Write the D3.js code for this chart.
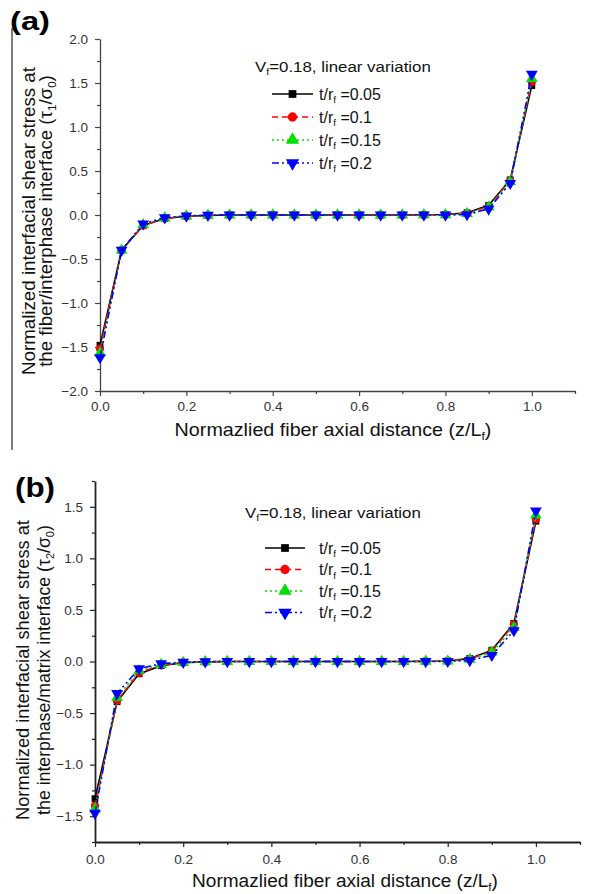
<!DOCTYPE html>
<html>
<head>
  <meta charset="UTF-8">
  <title>Normalized interfacial shear stress</title>
  <script src="https://d3js.org/d3.v7.min.js"></script>
  <style>
    body { margin: 0; background: #fff; }
    svg { display: block; font-family: "Liberation Sans", Arial, sans-serif; }
    .tick text { fill: #333; font-size: 13.5px; }
  </style>
</head>
<body>
  <div id="chart"></div>
  <script>
    // normalized axial positions z/Lf
    const zPos = [0, 0.05, 0.1, 0.15, 0.2, 0.25, 0.3, 0.35, 0.4, 0.45, 0.5,
                  0.55, 0.6, 0.65, 0.7, 0.75, 0.8, 0.85, 0.9, 0.95, 1.0];
    const thicknessLabels = ["0.05", "0.1", "0.15", "0.2"];

    // (a) tau1/sigma0, fiber/interphase interface
    const tau1_005 = [-1.48, -0.40, -0.12, -0.04, -0.015, -0.005, 0, 0, 0, 0, 0, 0, 0, 0, 0, 0.002, 0.005, 0.025, 0.11, 0.40, 1.47];
    const tau1_010 = [-1.52, -0.40, -0.12, -0.04, -0.015, -0.005, 0, 0, 0, 0, 0, 0, 0, 0, 0, 0.001, 0.004, 0.02, 0.10, 0.39, 1.51];
    const tau1_015 = [-1.57, -0.40, -0.11, -0.035, -0.012, -0.004, 0, 0, 0, 0, 0, 0, 0, 0, 0, 0.001, 0.003, 0.015, 0.09, 0.38, 1.55];
    const tau1_020 = [-1.62, -0.40, -0.10, -0.03, -0.01, -0.003, 0, 0, 0, 0, 0, 0, 0, 0, 0, 0, 0, 0.005, 0.07, 0.36, 1.60];

    // (b) tau2/sigma0, interphase/matrix interface
    const tau2_005 = [-1.33, -0.39, -0.12, -0.04, -0.012, -0.004, 0, 0, 0, 0, 0, 0, 0, 0, 0, 0.002, 0.005, 0.03, 0.11, 0.37, 1.36];
    const tau2_010 = [-1.40, -0.38, -0.11, -0.035, -0.01, -0.003, 0, 0, 0, 0, 0, 0, 0, 0, 0, 0.002, 0.004, 0.025, 0.10, 0.36, 1.38];
    const tau2_015 = [-1.43, -0.35, -0.09, -0.03, -0.01, -0.003, 0, 0, 0, 0, 0, 0, 0, 0, 0, 0.001, 0.003, 0.02, 0.09, 0.33, 1.42];
    const tau2_020 = [-1.47, -0.31, -0.07, -0.02, -0.006, -0.002, 0, 0, 0, 0, 0, 0, 0, 0, 0, 0, 0.002, 0.01, 0.06, 0.30, 1.46];

    const xTicks = [0, 0.2, 0.4, 0.6, 0.8, 1.0];
    const xMinorTicks = [0.1, 0.3, 0.5, 0.7, 0.9, 1.1];
    const yTicksA = [-2, -1.5, -1, -0.5, 0, 0.5, 1, 1.5, 2];
    const yMinorA = [-1.75, -1.25, -0.75, -0.25, 0.25, 0.75, 1.25, 1.75];
    const yTicksB = [-1.5, -1, -0.5, 0, 0.5, 1, 1.5];
    const yMinorB = [-1.75, -1.25, -0.75, -0.25, 0.25, 0.75, 1.25, 1.75];

    const seriesStyle = [
      { color: "#000000", dash: null, symbol: d3.symbolSquare, size: 46, rot: 0 },
      { color: "#ff0000", dash: "6,4", symbol: d3.symbolCircle, size: 52, rot: 0 },
      { color: "#00e000", dash: "2,3", symbol: d3.symbolTriangle, size: 60, rot: 0 },
      { color: "#0000ff", dash: "7,3,2,3,2,3", symbol: d3.symbolTriangle, size: 60, rot: 180 }
    ];

    const svg = d3.select("#chart").append("svg")
      .attr("width", 595).attr("height", 894);

    // writes text made of [string, isSub] parts
    function richText(g, parts, size) {
      let acc = 0;
      parts.forEach(([s, sub]) => {
        const t = g.append("tspan").text(s);
        if (sub) { t.attr("font-size", size * 0.62).attr("dy", size * 0.22); acc += size * 0.22; }
        else { t.attr("dy", -acc); acc = 0; }
      });
      return g;
    }

    // place a text at (tx,ty), rotated, and stretch it to a given length
    function fitText(t, tx, ty, rot, len) {
      const w = t.node().getBBox().width;
      t.attr("transform", `translate(${tx},${ty}) rotate(${rot}) scale(${len / w},1)`);
      return t;
    }

    function drawPanel(p) {
      const x = d3.scaleLinear().domain([0, 1.1]).range([p.x0, p.x1]);
      const y = d3.scaleLinear().domain(p.yDomain).range([p.y0, p.y1]);
      const g = svg.append("g");

      // minor ticks
      g.append("g").attr("transform", `translate(0,${p.y0})`)
        .call(d3.axisBottom(x).tickValues(xMinorTicks).tickSize(3).tickFormat(""))
        .call(a => a.select(".domain").remove())
        .selectAll("line").attr("stroke", p.axisColor).attr("stroke-width", 1.2);
      g.append("g").attr("transform", `translate(${p.x0},0)`)
        .call(d3.axisLeft(y).tickValues(p.yMinor).tickSize(3).tickFormat(""))
        .call(a => a.select(".domain").remove())
        .selectAll("line").attr("stroke", p.axisColor).attr("stroke-width", 1.2);

      const xa = g.append("g").attr("transform", `translate(0,${p.y0})`)
        .call(d3.axisBottom(x).tickValues(xTicks).tickSize(5).tickSizeOuter(0)
          .tickPadding(p.xPad).tickFormat(d3.format(".1f")));
      const ya = g.append("g").attr("transform", `translate(${p.x0},0)`)
        .call(d3.axisLeft(y).tickValues(p.yTicks).tickSize(5).tickSizeOuter(0)
          .tickPadding(7).tickFormat(d3.format(".1f")));
      [xa, ya].forEach(a => {
        a.select(".domain").attr("stroke", p.axisColor).attr("stroke-width", p.axisWidth);
        a.selectAll(".tick line").attr("stroke", p.axisColor).attr("stroke-width", 1.2);
        a.selectAll("text").attr("font-family", null).attr("font-size", null);
      });
      xa.selectAll(".tick text").attr("dy", "0.71em");

      // series
      p.series.forEach((vals, i) => {
        const st = seriesStyle[i];
        const pts = zPos.map((z, k) => [z, vals[k]]);
        g.append("path").datum(pts)
          .attr("fill", "none").attr("stroke", st.color).attr("stroke-width", 1.6)
          .attr("stroke-dasharray", st.dash)
          .attr("d", d3.line().x(d => x(d[0])).y(d => y(d[1])));
        g.selectAll(null).data(pts).enter().append("path")
          .attr("fill", st.color)
          .attr("d", d3.symbol().type(st.symbol).size(st.size))
          .attr("transform", d => `translate(${x(d[0])},${y(d[1])}) rotate(${st.rot})`);
      });

      // legend
      const lg = g.append("g");
      const lt = richText(lg.append("text").attr("font-size", 15).attr("fill", "#111"),
        [["V", false], ["f", true], ["=0.18,  linear variation", false]], 15);
      fitText(lt, p.legX, p.legY, 0, 176);
      thicknessLabels.forEach((lab, i) => {
        const st = seriesStyle[i];
        const cy = p.rowY + i * p.rowGap;
        lg.append("line").attr("x1", p.lineX0).attr("x2", p.lineX1).attr("y1", cy).attr("y2", cy)
          .attr("stroke", st.color).attr("stroke-width", 1.6).attr("stroke-dasharray", st.dash);
        lg.append("path").attr("fill", st.color)
          .attr("d", d3.symbol().type(st.symbol).size(st.size * 1.3))
          .attr("transform", `translate(${(p.lineX0 + p.lineX1) / 2},${cy}) rotate(${st.rot})`);
        richText(lg.append("text").attr("x", 319).attr("y", cy + 5.5).attr("font-size", 16).attr("fill", "#111"),
          [["t/r", false], ["f", true], [" =" + lab, false]], 16);
      });

      // axis titles
      const xt = richText(g.append("text").attr("text-anchor", "middle").attr("font-size", 18.5).attr("fill", "#111"),
        [["Normazlied fiber axial distance (z/L", false], ["f", true], [")", false]], 18.5);
      fitText(xt, p.xTitleX, p.xTitleY, 0, p.xTitleLen);

      const y1t = g.append("text").attr("text-anchor", "middle").attr("font-size", 18.5).attr("fill", "#111")
        .text("Normalized interfacial shear stress at");
      fitText(y1t, p.yT1, p.yTitleC, -90, p.yLen1);
      const y2t = richText(g.append("text").attr("text-anchor", "middle").attr("font-size", 18.5).attr("fill", "#111"),
        p.yTitle2, 18.5);
      fitText(y2t, p.yT2, p.yTitleC, -90, p.yLen2);

      const lab = g.append("text").attr("font-size", p.labSize).attr("font-weight", "bold").attr("fill", "#000")
        .text(p.label);
      fitText(lab, p.labX, p.labY, 0, 40);
    }

    // page edge line left of panel (a)
    svg.append("line").attr("x1", 12).attr("x2", 12).attr("y1", 28).attr("y2", 450)
      .attr("stroke", "#555").attr("stroke-width", 1.5);

    drawPanel({
      label: "(a)", labX: 10, labY: 30, labSize: 26,
      x0: 100, x1: 575, y0: 391, y1: 39, yDomain: [-2, 2],
      yTicks: yTicksA, yMinor: yMinorA, xPad: 5,
      axisColor: "#444", axisWidth: 1.3,
      series: [tau1_005, tau1_010, tau1_015, tau1_020],
      legX: 255, legY: 72, rowY: 94, rowGap: 23, lineX0: 272, lineX1: 313,
      xTitleX: 333, xTitleY: 436, xTitleLen: 317,
      yTitleC: 221, yT1: 35, yT2: 52, yLen1: 308, yLen2: 292,
      yTitle2: [["the fiber/interphase interface (τ", false], ["1", true], ["/σ", false], ["0", true], [")", false]]
    });

    drawPanel({
      label: "(b)", labX: 15, labY: 497, labSize: 28,
      x0: 95, x1: 580, y0: 842, y1: 481, yDomain: [-1.75, 1.75],
      yTicks: yTicksB, yMinor: yMinorB, xPad: 7,
      axisColor: "#222", axisWidth: 1.8,
      series: [tau2_005, tau2_010, tau2_015, tau2_020],
      legX: 245, legY: 518, rowY: 548, rowGap: 21.5, lineX0: 265, lineX1: 305,
      xTitleX: 345, xTitleY: 887, xTitleLen: 306,
      yTitleC: 670, yT1: 29, yT2: 50, yLen1: 300, yLen2: 290,
      yTitle2: [["the interphase/matrix interface (τ", false], ["2", true], ["/σ", false], ["0", true], [")", false]]
    });
  </script>
</body>
</html>
